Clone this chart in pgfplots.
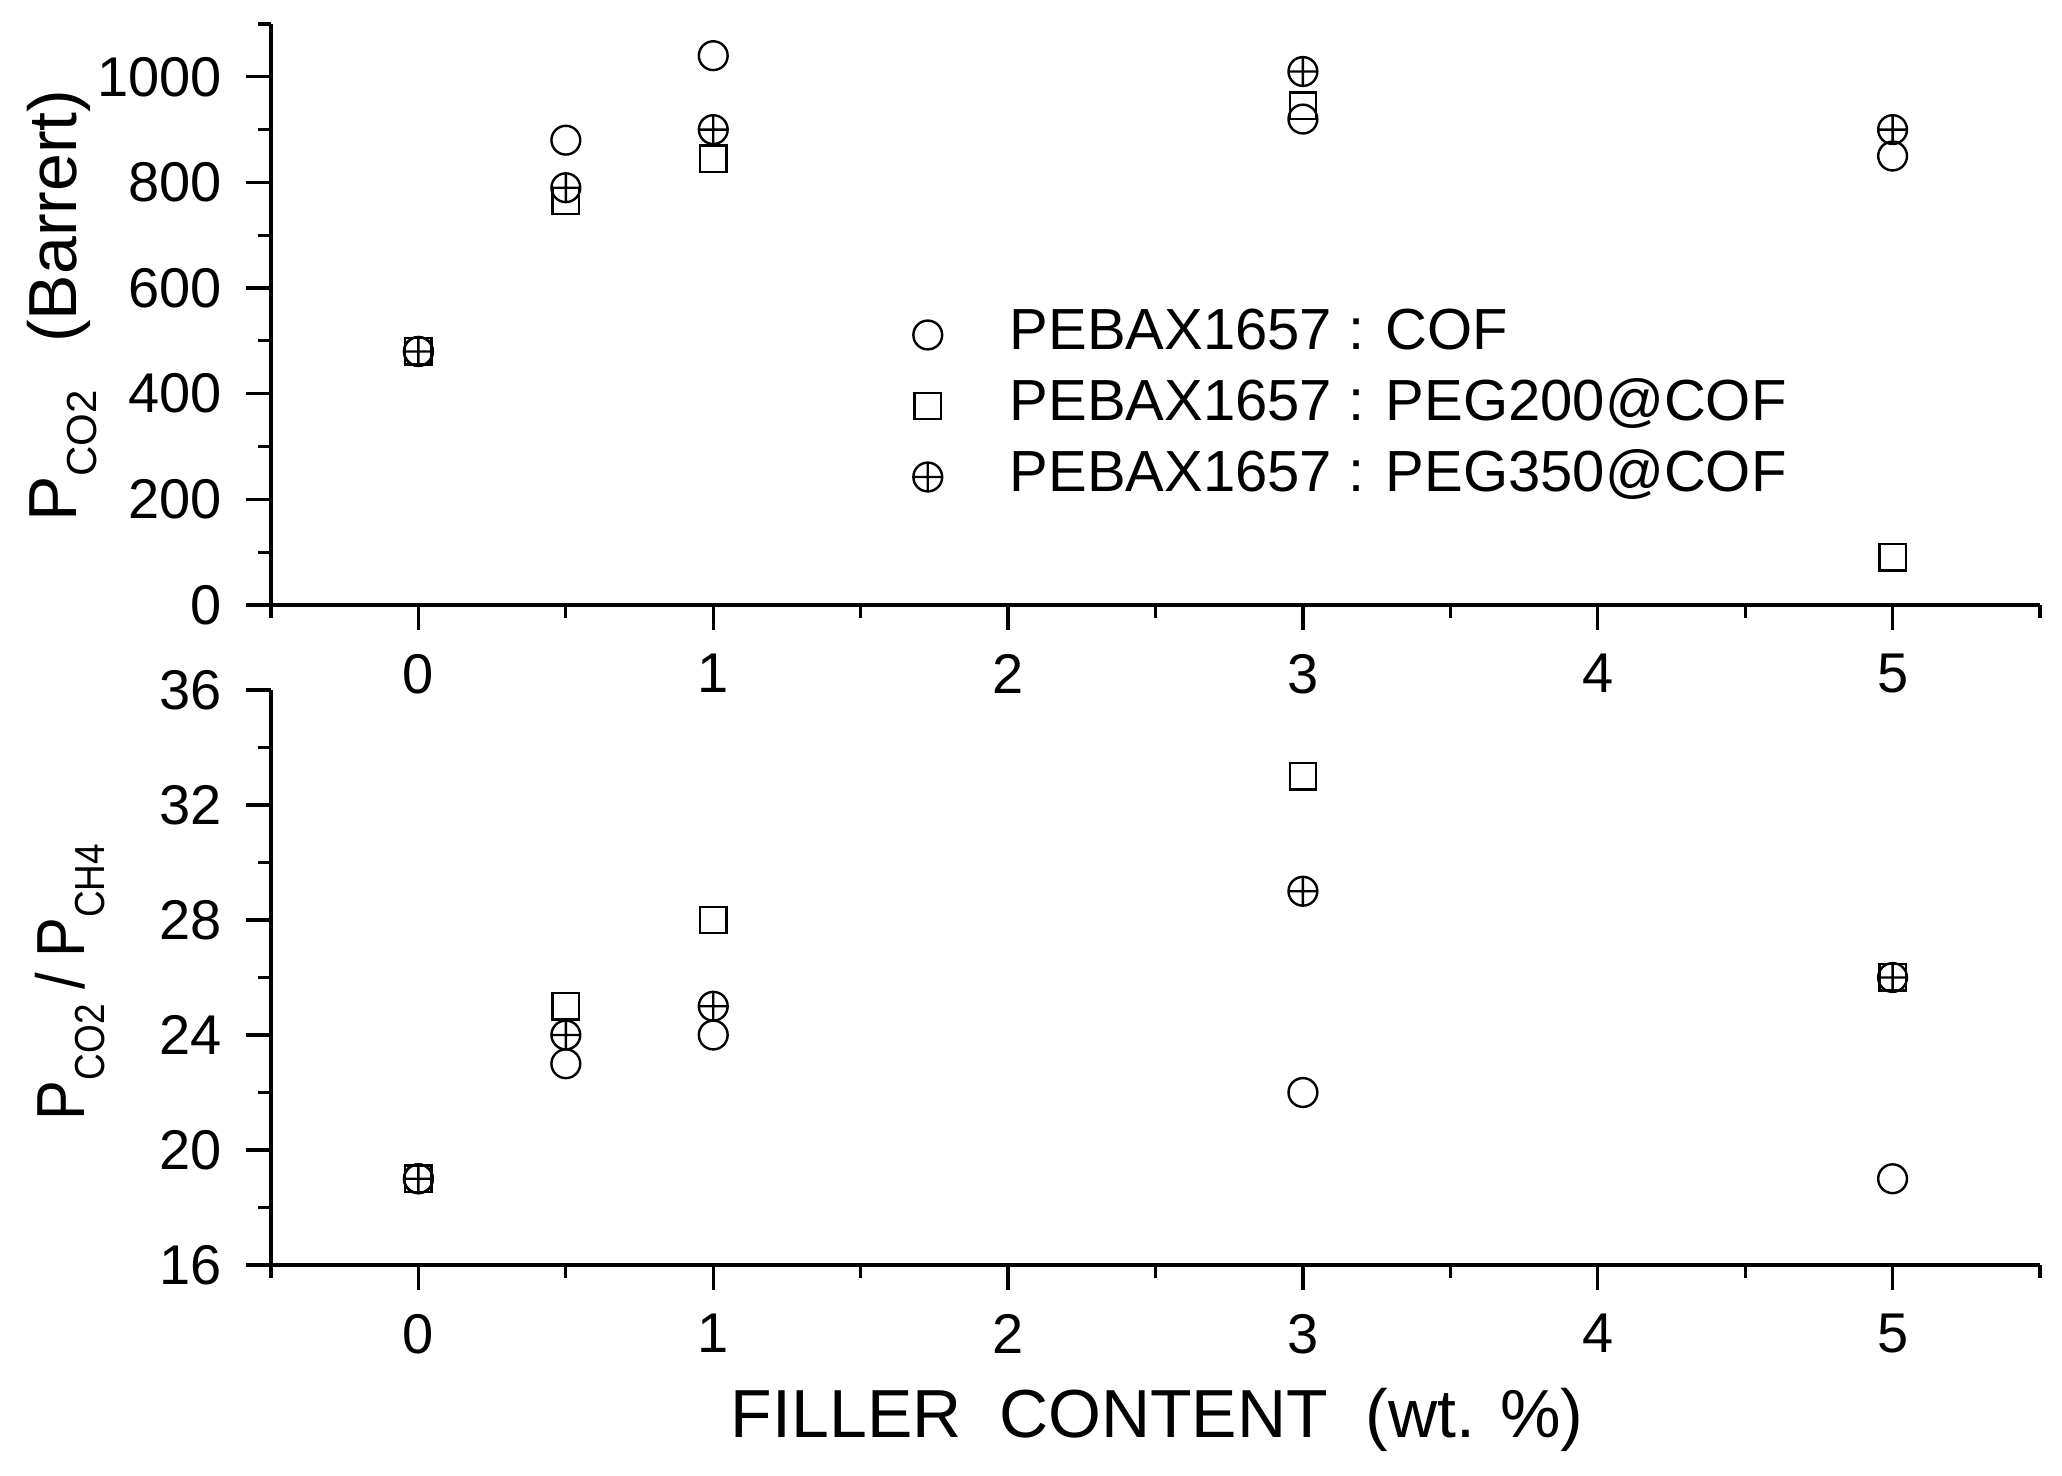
\documentclass[border=0pt]{standalone}
\usepackage{pgfplots}
\pgfplotsset{compat=1.18}
\usepackage{fontspec}
\setmainfont{Liberation Sans}
\newcommand{\sub}[1]{\raisebox{-0.55ex}{\fontsize{10.5}{10.5}\selectfont #1}}

\pgfplotsset{
  common/.style={
    scale only axis, width=442.25pt,
    xmin=-0.5, xmax=5.5,
    xtick={0,1,2,3,4,5}, minor xtick={-0.5,0.5,1.5,2.5,3.5,4.5,5.5},
    axis lines=left, axis line style={-, line width=0.8pt},
    tick align=outside, major tick length=6.25pt, minor tick length=3.3pt,
    every tick/.style={black, line width=0.8pt},
    every minor tick/.style={black, line width=0.8pt},
    tick label style={font=\fontsize{14}{14}\selectfont},
    xticklabel style={yshift=-2.5pt},
    yticklabel style={xshift=-2.5pt},
    /pgf/number format/assume math mode=true,
    /pgf/number format/1000 sep={},
    clip=false,
  },
  cof/.style={black, only marks, mark=o, mark size=3.6pt, mark options={line width=0.6pt}},
  pa/.style={black, only marks, mark=square, mark size=3.3pt, mark options={line width=0.6pt}},
  pb/.style={black, only marks, mark=oplus, mark size=3.6pt, mark options={line width=0.6pt}},
}

\begin{document}
\begin{tikzpicture}
\path[use as bounding box] (-67.75pt,-52.5pt) rectangle (447.75pt,316.25pt);

% top axis
\begin{axis}[common,
  at={(0pt,165pt)}, anchor=south west, height=145.25pt,
  ymin=0, ymax=1100,
  ytick={0,200,400,600,800,1000}, minor ytick={100,300,500,700,900,1100},
  ylabel={P\sub{CO2}\hspace{0.7em}(Barrert)},
  ylabel style={at={(axis description cs:-0.118,0.515)}, anchor=center, font=\fontsize{17}{17}\selectfont},
  legend style={draw=none, fill=none, at={(axis description cs:0.3516,0.3425)}, anchor=west,
    font=\fontsize{14.5}{14.5}\selectfont, inner sep=0pt, row sep=2.25pt,
    nodes={text height=10.5pt, text depth=3pt, inner sep=1pt}},
  legend cell align=left,
  legend image code/.code={\path[draw=none] (0pt,0pt) -- (28pt,0pt); \draw[#1, draw=none] plot coordinates {(8.5pt,0pt)};},
]
\addplot[cof, forget plot] coordinates {(0,480) (0.5,880) (1,1040) (3,920) (5,850)};
\addplot[pa, forget plot] coordinates {(0,480) (0.5,765) (1,845) (3,945) (5,90)};
\addplot[pb, forget plot] coordinates {(0,480) (0.5,790) (1,900) (3,1010) (5,900)};
\addlegendimage{cof}
\addlegendentry{PEBAX1657 : COF}
\addlegendimage{pa}
\addlegendentry{PEBAX1657 : PEG200@COF}
\addlegendimage{pb}
\addlegendentry{PEBAX1657 : PEG350@COF}
\end{axis}

% bottom axis
\begin{axis}[common,
  at={(0pt,0pt)}, anchor=south west, height=143.75pt,
  ymin=16, ymax=36,
  ytick={16,20,24,28,32,36}, minor ytick={18,22,26,30,34},
  ylabel={\scalebox{0.88}[1]{P\sub{CO2}\hspace{0.25em}/\hspace{0.25em}P\sub{CH4}}},
  ylabel style={at={(axis description cs:-0.1136,0.492)}, anchor=center, font=\fontsize{17}{17}\selectfont},
  xlabel={FILLER\ \ CONTENT\ \ (wt. \%)},
  xlabel style={at={(axis description cs:0.501,-0.2696)}, anchor=center, font=\fontsize{17}{17}\selectfont},
]
\addplot[cof] coordinates {(0,19) (0.5,23) (1,24) (3,22) (5,19)};
\addplot[pa] coordinates {(0,19) (0.5,25) (1,28) (3,33) (5,26)};
\addplot[pb] coordinates {(0,19) (0.5,24) (1,25) (3,29) (5,26)};
\end{axis}
\end{tikzpicture}
\end{document}
